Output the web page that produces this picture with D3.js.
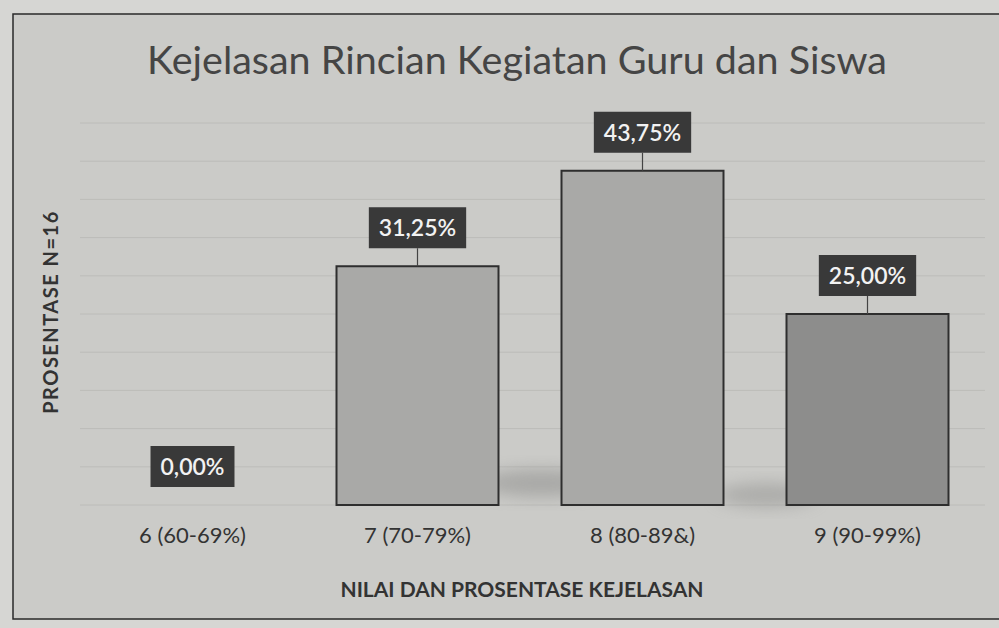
<!DOCTYPE html>
<html>
<head>
<meta charset="utf-8">
<script src="https://cdn.jsdelivr.net/npm/d3@7"></script>
<style>
body{margin:0;background:#d6d6d3;}
svg{display:block;font-family:Lato,"Open Sans",sans-serif;}
</style>
</head>
<body>
<svg></svg>
<script>
var width=999;
var height=628;

var categories=["6 (60-69%)","7 (70-79%)","8 (80-89&)","9 (90-99%)"];
var values=[0,31.25,43.75,25];
var valueLabels=["0,00%","31,25%","43,75%","25,00%"];
var gridTicks=[0,5,10,15,20,25,30,35,40,45,50];

var svg=d3.select("svg")
	.attr("width",width)
	.attr("height",height)

// paper + frame
svg.append("rect")
	.attr("x",13).attr("y",14)
	.attr("width",1000).attr("height",605)
	.attr("fill","#cbcbc8")
	.attr("stroke","#2a2a2a")
	.attr("stroke-width",1.5)

var scalex=d3.scaleBand()
	.domain(categories)
	.range([80,980])
	.paddingInner(0.28)
	.paddingOuter(0.14)

var scaley=d3.scaleLinear()
	.domain([0,50])
	.range([505,123])

// faint gridlines
svg.append("g")
	.selectAll("line")
	.data(gridTicks)
	.enter()
	.append("line")
	.attr("x1",80)
	.attr("x2",985)
	.attr("y1",d=>scaley(d))
	.attr("y2",d=>scaley(d))
	.attr("stroke","#bcbcb9")
	.attr("stroke-width",1)

// soft floor shadow
var defs=svg.append("defs");
var blur=defs.append("filter").attr("id","blur").attr("x","-20%").attr("y","-50%").attr("width","140%").attr("height","200%");
blur.append("feGaussianBlur").attr("stdDeviation",8);

svg.append("ellipse")
	.attr("cx",scalex(categories[2])-20)
	.attr("cy",scaley(0)-22)
	.attr("rx",60).attr("ry",14)
	.attr("fill","#8e8e8c")
	.attr("opacity",0.55)
	.attr("filter","url(#blur)")

svg.append("ellipse")
	.attr("cx",scalex(categories[3])-20)
	.attr("cy",scaley(0)-10)
	.attr("rx",50).attr("ry",12)
	.attr("fill","#8e8e8c")
	.attr("opacity",0.5)
	.attr("filter","url(#blur)")

// bars
svg.append("g")
	.selectAll("rect")
	.data(values)
	.enter()
	.filter(d=>d>0)
	.append("rect")
	.attr("x",d=>scalex(categories[values.indexOf(d)]))
	.attr("y",d=>scaley(d))
	.attr("width",scalex.bandwidth())
	.attr("height",d=>scaley(0)-scaley(d))
	.attr("fill",d=>values.indexOf(d)==3?"#8d8d8c":"#a9a9a7")
	.attr("stroke","#2e2e2e")
	.attr("stroke-width",2)

// value labels with leader lines
var lab=svg.append("g")
	.selectAll("g")
	.data(values)
	.enter()
	.append("g")
	.attr("transform",(d,i)=>"translate("+(scalex(categories[i])+scalex.bandwidth()/2)+","+(scaley(d)-18)+")")

lab.append("line")
	.attr("x1",0).attr("x2",0)
	.attr("y1",0).attr("y2",18)
	.attr("stroke","#444")
	.attr("stroke-width",1.2)
	.style("display",d=>d>0?null:"none")

var boxes=lab.append("rect")
	.attr("y",-41)
	.attr("height",41)
	.attr("fill","#393939")

var labtext=lab.append("text")
	.attr("y",-12)
	.style("text-anchor","middle")
	.style("font-size","23px")
	.style("font-weight","600")
	.attr("fill","#f2f2f2")
	.text((d,i)=>valueLabels[i])

boxes.each(function(d,i){
	var w=labtext.nodes()[i].getComputedTextLength()+20;
	d3.select(this).attr("x",-w/2).attr("width",w)
})

// category axis labels
var xaxis=d3.axisBottom(scalex).tickSize(0).tickPadding(22);

svg.append("g")
	.attr("transform","translate(0,"+scaley(0)+")")
	.call(xaxis)
	.call(g=>g.select(".domain").remove())
	.selectAll("text")
	.style("font-family","Lato,'Open Sans',sans-serif")
	.style("font-size","22px")
	.attr("fill","#333")

// title
svg.append("text")
	.attr("x",517)
	.attr("y",74)
	.style("text-anchor","middle")
	.style("font-size","39.5px")
	.attr("fill","#454545")
	.text("Kejelasan Rincian Kegiatan Guru dan Siswa")

// axis titles
svg.append("text")
	.attr("x",522)
	.attr("y",597)
	.style("text-anchor","middle")
	.style("font-size","21px")
	.style("font-weight","bold")
	.attr("fill","#333")
	.text("NILAI DAN PROSENTASE KEJELASAN")

svg.append("text")
	.attr("transform","translate(58,312) rotate(-90)")
	.style("text-anchor","middle")
	.style("font-size","20px")
	.style("font-weight","bold")
	.style("letter-spacing","1.5px")
	.attr("fill","#333")
	.text("PROSENTASE N=16")
</script>
</body>
</html>
